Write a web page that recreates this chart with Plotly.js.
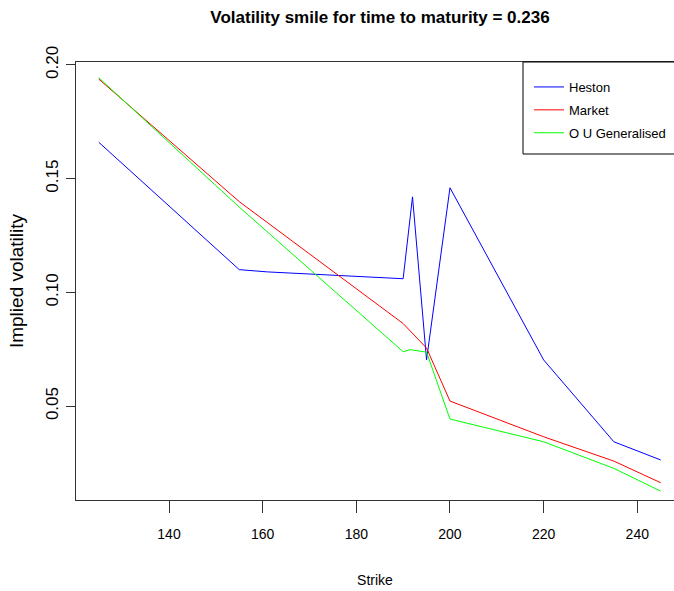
<!DOCTYPE html>
<html>
<head>
<meta charset="utf-8">
<script src="https://cdn.plot.ly/plotly-3.0.1.min.js"></script>
<style>
  html, body { margin: 0; padding: 0; background: #ffffff; }
  #chart { width: 674px; height: 591px; }
</style>
</head>
<body>
<div id="chart"></div>
<script>
// Data
const hestonStrike = [125, 155, 161, 190, 192, 195, 200, 220, 235, 245];
const hestonVol    = [0.166, 0.110, 0.109, 0.106, 0.142, 0.0703, 0.146, 0.0703, 0.0343, 0.0263];

const marketStrike = [125, 155, 190, 195, 200, 220, 235, 245];
const marketVol    = [0.1938, 0.1399, 0.0863, 0.0755, 0.0522, 0.0365, 0.0258, 0.0163];

const ouStrike = [125, 155, 190, 191.5, 195, 200, 220, 235, 245];
const ouVol    = [0.1944, 0.1375, 0.0739, 0.0748, 0.0737, 0.0443, 0.0343, 0.0226, 0.0126];

const seriesNames = ["Heston", "Market", "O U Generalised"];
const xTicks = [140, 160, 180, 200, 220, 240];
const yTicks = [0.05, 0.10, 0.15, 0.20];

const FONT = '"Liberation Sans", Arial, sans-serif';

const traces = [
  {x: hestonStrike, y: hestonVol, name: seriesNames[0], type: 'scatter', mode: 'lines',
   line: {color: '#0000FF', width: 1}, legendgroup: 'a'},
  {x: marketStrike, y: marketVol, name: seriesNames[1], type: 'scatter', mode: 'lines',
   line: {color: '#FF0000', width: 1}, legendgroup: 'b'},
  {x: ouStrike, y: ouVol, name: seriesNames[2], type: 'scatter', mode: 'lines',
   line: {color: '#00FF00', width: 1}, legendgroup: 'c'}
];

const layout = {
  width: 674, height: 591,
  margin: {l: 76, r: 0, t: 62, b: 91, autoexpand: false},
  paper_bgcolor: '#ffffff', plot_bgcolor: '#ffffff',
  title: {
    text: 'Volatility smile for time to maturity = 0.236',
    font: {family: FONT, size: 17, color: '#000000', weight: 'bold'},
    xref: 'container', x: 380 / 674, xanchor: 'center',
    yref: 'container', y: 1 - 17 / 591, yanchor: 'middle'
  },
  showlegend: true,
  legend: {
    x: (529 - 76) / 598, xanchor: 'left',
    y: 1 - 10 / 438, yanchor: 'top',
    bgcolor: 'rgba(0,0,0,0)', borderwidth: 0,
    font: {family: FONT, size: 13, color: '#000000'},
    tracegroupgap: 3
  },
  xaxis: {
    range: [120.14, 247.84],
    tickmode: 'array', tickvals: xTicks, ticktext: xTicks.map(String),
    showgrid: false, zeroline: false,
    showline: true, mirror: true, linecolor: '#333333', linewidth: 1,
    ticks: 'outside', ticklen: 12, tickwidth: 1, tickcolor: '#333333',
    tickfont: {family: FONT, size: 14, color: '#000000'},
    ticklabelstandoff: 9,
    title: {text: 'Strike', font: {family: FONT, size: 14, color: '#000000'}, standoff: 34}
  },
  yaxis: {
    range: [0.0087, 0.2013],
    tickmode: 'array', tickvals: yTicks, ticktext: yTicks.map(v => v.toFixed(2)),
    showgrid: false, zeroline: false,
    showline: true, mirror: false, linecolor: '#333333', linewidth: 1,
    ticks: 'outside', ticklen: 9, tickwidth: 1, tickcolor: '#333333',
    tickangle: -90,
    tickfont: {family: FONT, size: 17, color: '#000000'},
    ticklabelstandoff: 1,
    title: {text: 'Implied volatility', font: {family: FONT, size: 19, color: '#000000'}, standoff: 14}
  },
  shapes: [{
    type: 'rect', xref: 'paper', yref: 'paper',
    x0: (523 - 76) / 598, x1: 1.3, y0: (500 - 154) / 438, y1: 1,
    line: {color: '#000000', width: 1}, fillcolor: 'rgba(0,0,0,0)', layer: 'above'
  }]
};

Plotly.newPlot('chart', traces, layout, {displayModeBar: false, staticPlot: true});
</script>
</body>
</html>
